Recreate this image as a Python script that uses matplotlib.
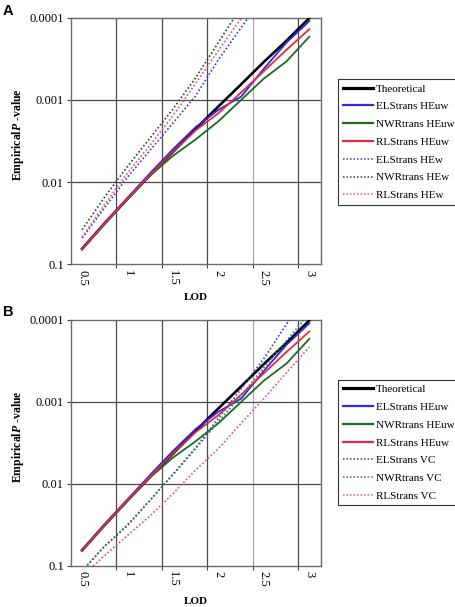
import matplotlib
matplotlib.use("Agg")
import matplotlib.pyplot as plt
from matplotlib.ticker import FixedLocator, FixedFormatter, NullLocator
from matplotlib.lines import Line2D

plt.rcParams['font.family'] = ['Liberation Serif', 'DejaVu Serif']
plt.rcParams['mathtext.fontset'] = 'custom'
plt.rcParams['mathtext.rm'] = 'Liberation Serif:bold'
plt.rcParams['mathtext.it'] = 'Liberation Serif:italic:bold'
plt.rcParams['mathtext.bf'] = 'Liberation Serif:bold'

# ---------------- data ----------------
lod = [0.5, 0.75, 1.0, 1.25, 1.5, 1.75, 2.0, 2.25, 2.5, 2.75, 3.0]
x_tick_labels = ["0.5", "1", "1.5", "2", "2.5", "3"]
y_tick_values = [0.1, 0.01, 0.001, 0.0001]
y_tick_labels = ["0.1", "0.01", "0.001", "0.0001"]

theoretical = [0.0648, 0.0316, 0.01595, 0.00819, 0.0043, 0.00225, 0.0012,
               0.000646, 0.000345, 0.00019, 0.000101]
els_heuw = [0.0646, 0.0309, 0.0155, 0.00776, 0.00398, 0.00214, 0.00132,
            0.000912, 0.000417, 0.0002, 0.00011]
nwr_heuw = [0.0661, 0.0324, 0.0162, 0.00832, 0.00479, 0.00302, 0.00182,
            0.001, 0.00055, 0.000339, 0.00017]
rls_heuw = [0.0661, 0.0316, 0.0158, 0.00813, 0.00427, 0.00234, 0.00145,
            0.000813, 0.000447, 0.000245, 0.000138]

# panel A (weighted HE)
els_hew = [0.0479, 0.0204, 0.0087, 0.00407, 0.00191, 0.00089, 0.000324,
           0.000132, 5.4e-5, 2.5e-5, 1.26e-5]
nwr_hew = [0.038, 0.0151, 0.00646, 0.00288, 0.00129, 0.000537, 0.0002,
           7.4e-5, 3.2e-5, 1.4e-5, 6.3e-6]
rls_hew = [0.0468, 0.0186, 0.00776, 0.00355, 0.00155, 0.00063, 0.000251,
           0.000102, 4.5e-5, 2e-5, 8.9e-6]

# panel B (variance components)
els_vc = [0.117, 0.0575, 0.0324, 0.0158, 0.00759, 0.00363, 0.00158,
          0.000692, 0.000295, 0.000112, 4.5e-5]
nwr_vc = [0.115, 0.0575, 0.0316, 0.0158, 0.00776, 0.00372, 0.00174,
          0.000832, 0.00038, 0.000178, 8.3e-5]
rls_vc = [0.135, 0.075, 0.0427, 0.0245, 0.0132, 0.00676, 0.00372,
          0.00182, 0.000912, 0.000437, 0.000214]

labels_A = ["Theoretical", "ELStrans HEuw", "NWRtrans HEuw", "RLStrans HEuw",
            "ELStrans HEw", "NWRtrans HEw", "RLStrans HEw"]
labels_B = ["Theoretical", "ELStrans HEuw", "NWRtrans HEuw", "RLStrans HEuw",
            "ELStrans VC", "NWRtrans VC", "RLStrans VC"]

# ---------------- styling ----------------
W, H = 456, 607
fig = plt.figure(figsize=(W / 100, H / 100), dpi=100)

C_BLACK = '#000000'
C_BLUE = '#2b2bf0'
C_GREEN = '#1e6b1e'
C_RED = '#e8283c'
C_BLUE_D = '#3a3ad0'
C_GREEN_DA = '#1f4f1f'
C_GREEN_DB = '#3f7f3f'
C_RED_D = '#e8506a'
DOT = (0, (1.0, 1.3))


def px_axes(left, top, right, bottom):
    return fig.add_axes([left / W, 1 - bottom / H, (right - left) / W, (bottom - top) / H])


def setup(ax):
    ax.set_yscale('log')
    ax.set_xlim(lod[0] - 0.125, lod[-1] + 0.125)
    ax.set_ylim(y_tick_values[0], y_tick_values[-1])
    ax.yaxis.set_major_locator(FixedLocator(y_tick_values))
    ax.yaxis.set_major_formatter(FixedFormatter(y_tick_labels))
    ax.yaxis.set_minor_locator(NullLocator())
    ax.xaxis.set_major_locator(FixedLocator(lod[::2]))
    ax.xaxis.set_major_formatter(FixedFormatter(x_tick_labels))
    bounds = [v - 0.125 for v in lod[2::2]]
    ax.xaxis.set_minor_locator(FixedLocator(bounds))
    ax.tick_params(axis='x', which='major', length=0, pad=4, labelsize=9,
                   labelrotation=-90)
    ax.tick_params(axis='x', which='minor', length=3, width=0.8, color='#444444')
    ax.tick_params(axis='y', which='major', length=3, width=0.8, pad=2,
                   labelsize=9, color='#444444')
    for b in bounds:
        col = '#a8a8a8' if abs(b - 2.375) < 1e-6 else '#4a4a4a'
        ax.axvline(b, color=col, lw=0.9, zorder=1)
    for yv in y_tick_values[1:-1]:
        ax.axhline(yv, color='#4a4a4a', lw=0.9, zorder=1)
    for s in ax.spines.values():
        s.set_color('#6a6a6a')
        s.set_linewidth(1.0)


def draw(ax, dotted, dotted_colors, labels, leg_top):
    setup(ax)
    ax.plot(lod, theoretical, color=C_BLACK, lw=1.9, zorder=3)
    ax.plot(lod, els_heuw, color=C_BLUE, lw=1.3, zorder=3)
    ax.plot(lod, nwr_heuw, color=C_GREEN, lw=1.3, zorder=3)
    ax.plot(lod, rls_heuw, color=C_RED, lw=1.3, zorder=3)
    for series, col in zip(dotted, dotted_colors):
        ax.plot(lod, series, color=col, lw=1.2, ls=DOT, zorder=3)
    handles = [Line2D([], [], color=C_BLACK, lw=2.3),
               Line2D([], [], color=C_BLUE, lw=1.6),
               Line2D([], [], color=C_GREEN, lw=1.6),
               Line2D([], [], color=C_RED, lw=1.6)]
    handles += [Line2D([], [], color=c, lw=1.1, ls=DOT) for c in dotted_colors]
    leg = ax.legend(handles, labels, loc='upper left',
                    bbox_to_anchor=(338.3 / W, 1 - leg_top / H),
                    bbox_transform=fig.transFigure, fontsize=8,
                    frameon=True, fancybox=False, framealpha=1,
                    edgecolor='#333333', borderpad=0.4, handlelength=2.7,
                    handletextpad=0.25, labelspacing=0.72, borderaxespad=0)
    leg.get_frame().set_linewidth(0.8)


axA = px_axes(70.7, 17.7, 320.7, 264.3)
draw(axA, [els_hew, nwr_hew, rls_hew], [C_BLUE_D, C_GREEN_DA, C_RED_D], labels_A, 79.3)

axB = px_axes(70.7, 320.0, 320.7, 565.7)
draw(axB, [els_vc, nwr_vc, rls_vc], [C_BLUE_D, C_GREEN_DB, C_RED_D], labels_B, 380.0)

ylab = r"Empirical$\mathit{P}$ -value"
fig.text(18 / W, 1 - 135 / H, ylab, rotation=90, ha='center', va='center',
         fontsize=8.5, fontweight='bold')
fig.text(18 / W, 1 - 437 / H, ylab, rotation=90, ha='center', va='center',
         fontsize=8.5, fontweight='bold')
fig.text(195.7 / W, 1 - 298 / H, "LOD", ha='center', va='center', fontsize=8,
         fontweight='bold')
fig.text(195.7 / W, 1 - 601 / H, "LOD", ha='center', va='center', fontsize=8,
         fontweight='bold')
fig.text(3 / W, 1 - 11 / H, "A", ha='left', va='center', fontsize=10.5,
         fontweight='bold', family=['Liberation Sans', 'DejaVu Sans'])
fig.text(3 / W, 1 - 312 / H, "B", ha='left', va='center', fontsize=10.5,
         fontweight='bold', family=['Liberation Sans', 'DejaVu Sans'])

fig.savefig("out.png", dpi=100)
